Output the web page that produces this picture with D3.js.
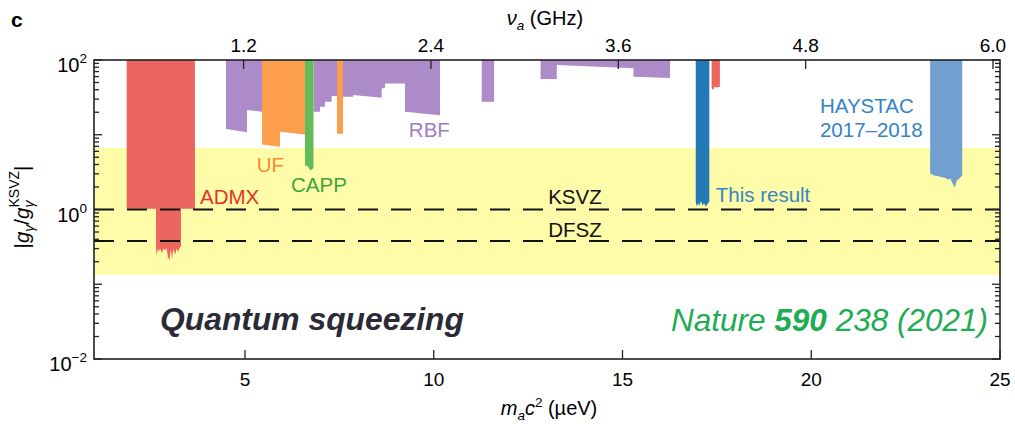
<!DOCTYPE html>
<html>
<head>
<meta charset="utf-8">
<script src="https://cdn.jsdelivr.net/npm/d3@7"></script>
<style>
  body { margin: 0; background: #fff; }
  svg text { font-family: "Liberation Sans", Arial, Helvetica, sans-serif; }
</style>
</head>
<body>
<div id="chart"></div>
<script>
// ---- data (mass in µeV, coupling relative to KSVZ) ----
const massTicks = [5, 10, 15, 20, 25];
const freqTicks = [1.2, 2.4, 3.6, 4.8, 6.0];
const GHZ_PER_UEV = 0.241799;

const ksvz = 1.0;
const dfsz = 0.38;
const band = [0.134, 6.65]; // yellow model band

// lower edge of each excluded region, [mass, |g/gKSVZ|]
const admx = [[1.866, 1.02], [2.642, 1.02], [2.642, 0.30], [2.66, 0.24], [2.69, 0.30], [2.72, 0.27],
  [2.75, 0.30], [2.80, 0.26], [2.84, 0.30], [2.88, 0.28], [2.92, 0.31], [2.96, 0.23], [3.00, 0.21],
  [3.03, 0.29], [3.07, 0.22], [3.10, 0.30], [3.15, 0.25], [3.19, 0.30], [3.23, 0.27], [3.27, 0.31],
  [3.305, 0.32], [3.305, 1.02], [3.675, 1.02]];
const admxHigh = [[17.36, 42], [17.40, 40], [17.44, 44], [17.50, 43], [17.58, 44]];
const uf = [[5.45, 7.4], [5.927, 6.9], [5.927, 11.0], [6.589, 10.1]];
const ufNarrow = [[7.437, 10.3], [7.596, 10.3]];
const capp = [[6.589, 3.85], [6.66, 3.85], [6.70, 3.5], [6.74, 3.35], [6.78, 3.45], [6.815, 3.6]];
const rbf = [
  [[4.497, 11.9], [5.053, 10.8], [5.053, 21.4], [5.450, 20.3]],
  [[6.815, 20.3], [6.986, 20.3], [6.986, 23.7], [7.119, 23.7], [7.119, 27.6], [7.295, 27.6], [7.295, 33.0], [7.437, 33.0]],
  [[7.596, 32.2], [7.868, 32.2], [7.868, 34.0], [8.62, 31.3], [8.62, 41.9], [8.709, 41.9], [8.709, 48.5],
   [9.238, 48.5], [9.238, 20.3], [10.166, 18.3]],
  [[11.27, 27.6], [11.60, 27.6]],
  [[12.83, 55.6], [13.26, 55.6], [13.26, 85.8], [15.29, 77.7], [15.29, 59.8], [16.26, 57.3]]
];
const thisResult = [[16.94, 1.25], [16.97, 1.10], [17.00, 1.20], [17.04, 1.13], [17.08, 1.30], [17.12, 1.12],
  [17.16, 1.22], [17.20, 1.10], [17.25, 1.18], [17.30, 1.28]];
const haystac = [[23.15, 3.05], [23.25, 2.85], [23.35, 2.8], [23.45, 2.7], [23.55, 2.65], [23.62, 2.5],
  [23.68, 2.62], [23.75, 2.2], [23.80, 1.95], [23.85, 2.4], [23.92, 2.6], [24.0, 2.85]];

const width = 1015, height = 424;
const margin = {top: 60, right: 15, bottom: 65, left: 94};

const x = d3.scaleLinear().domain([1, 25]).range([margin.left, width - margin.right]);
const xf = d3.scaleLinear().domain([1 * GHZ_PER_UEV, 25 * GHZ_PER_UEV]).range(x.range());
const y = d3.scaleLog().domain([0.01, 100]).range([height - margin.bottom, margin.top]);

const svg = d3.select("#chart").append("svg")
  .attr("width", width)
  .attr("height", height);

// yellow band
svg.append("rect")
  .attr("x", x(1)).attr("width", x(25) - x(1))
  .attr("y", y(band[1])).attr("height", y(band[0]) - y(band[1]))
  .attr("fill", "#fefca8");

const area = d3.area()
  .x(d => x(d[0]))
  .y0(y(100))
  .y1(d => y(d[1]));

const regions = [
  ...rbf.map(r => ({pts: r, color: "#ac8bc8"})),
  {pts: admx, color: "#ec6660"},
  {pts: admxHigh, color: "#ec6660"},
  {pts: uf, color: "#fd9e4c"},
  {pts: ufNarrow, color: "#fd9e4c"},
  {pts: capp, color: "#63bb5c"},
  {pts: thisResult, color: "#2279b6"},
  {pts: haystac, color: "#709fd0"}
];

svg.append("g").selectAll("path")
  .data(regions)
  .enter().append("path")
  .attr("d", d => area(d.pts))
  .attr("fill", d => d.color);

// KSVZ / DFSZ dashed lines
svg.append("g").selectAll("line")
  .data([ksvz, dfsz])
  .enter().append("line")
  .attr("x1", x(1)).attr("x2", x(25))
  .attr("y1", d => y(d)).attr("y2", d => y(d))
  .attr("stroke", "#111")
  .attr("stroke-width", 2)
  .attr("stroke-dasharray", "20,13");

// frame
svg.append("rect")
  .attr("x", x(1)).attr("y", y(100))
  .attr("width", x(25) - x(1)).attr("height", y(0.01) - y(100))
  .attr("fill", "none").attr("stroke", "#222").attr("stroke-width", 1.6);

// log ticks on left and right, pointing inward
const yTicks = y.ticks();
const isDecade = d => Math.abs(Math.log10(d) - Math.round(Math.log10(d))) < 1e-6;
const tickG = svg.append("g").attr("stroke", "#222").attr("stroke-width", 1.3);
tickG.selectAll(".tl").data(yTicks).enter().append("line")
  .attr("x1", x(1)).attr("x2", d => x(1) + (isDecade(d) ? 8 : 5))
  .attr("y1", d => y(d)).attr("y2", d => y(d));
tickG.selectAll(".tr").data(yTicks).enter().append("line")
  .attr("x1", x(25)).attr("x2", d => x(25) - (isDecade(d) ? 8 : 5))
  .attr("y1", d => y(d)).attr("y2", d => y(d));
// bottom ticks
tickG.selectAll(".tb").data(massTicks).enter().append("line")
  .attr("x1", d => x(d)).attr("x2", d => x(d))
  .attr("y1", y(0.01)).attr("y2", y(0.01) - 9);
// top ticks (frequency)
tickG.selectAll(".tt").data(freqTicks).enter().append("line")
  .attr("x1", d => xf(d)).attr("x2", d => xf(d))
  .attr("y1", y(100)).attr("y2", y(100) + 9);

// tick labels
const fs = 19;
svg.append("g").selectAll("text")
  .data(massTicks).enter().append("text")
  .attr("x", d => x(d)).attr("y", 386)
  .attr("text-anchor", "middle").attr("font-size", fs)
  .text(d => d);
svg.append("g").selectAll("text")
  .data(freqTicks).enter().append("text")
  .attr("x", d => xf(d)).attr("y", 52)
  .attr("text-anchor", "middle").attr("font-size", fs)
  .text(d => d.toFixed(1));

const yLab = svg.append("g").selectAll("text")
  .data([2, 0, -2]).enter().append("text")
  .attr("x", 87).attr("y", d => y(Math.pow(10, d)) + 12)
  .attr("text-anchor", "end").attr("font-size", 20);
yLab.append("tspan").text("10");
yLab.append("tspan").attr("dy", -9).attr("font-size", 13.5)
  .text(d => d < 0 ? "\u2212" + (-d) : d);

// axis titles
const xt = svg.append("text").attr("x", 549).attr("y", 415)
  .attr("text-anchor", "middle").attr("font-size", 20);
xt.append("tspan").attr("font-style", "italic").text("m");
xt.append("tspan").attr("font-size", 13.5).attr("dy", 5).attr("font-style", "italic").text("a");
xt.append("tspan").attr("dy", -5).attr("font-style", "italic").text("c");
xt.append("tspan").attr("font-size", 13.5).attr("dy", -8).text("2");
xt.append("tspan").attr("dy", 8).text(" (\u00b5eV)");

const ft = svg.append("text").attr("x", 545).attr("y", 25)
  .attr("text-anchor", "middle").attr("font-size", 20);
ft.append("tspan").attr("font-style", "italic").text("\u03bd");
ft.append("tspan").attr("font-size", 13.5).attr("dy", 5).attr("font-style", "italic").text("a");
ft.append("tspan").attr("dy", -5).text(" (GHz)");

const yt = svg.append("text")
  .attr("transform", "translate(29,207) rotate(-90)")
  .attr("text-anchor", "middle").attr("font-size", 20.5);
yt.append("tspan").text("|");
yt.append("tspan").attr("font-style", "italic").text("g");
yt.append("tspan").attr("font-size", 14).attr("dy", 5).attr("font-style", "italic").text("\u03b3");
yt.append("tspan").attr("dy", -5).text("/");
yt.append("tspan").attr("font-style", "italic").text("g");
yt.append("tspan").attr("font-size", 14).attr("dy", 5).attr("font-style", "italic").text("\u03b3");
yt.append("tspan").attr("font-size", 14).attr("dx", -7).attr("dy", -15).text("KSVZ");
yt.append("tspan").attr("dy", 10).text("|");

svg.append("text").attr("x", 11).attr("y", 27)
  .attr("font-size", 21).attr("font-weight", "bold").text("c");

// experiment labels, anchored in data coordinates
const labels = [
  {t: "ADMX", m: 3.81, g: 1.174, c: "#e0332d"},
  {t: "UF", m: 5.31, g: 3.2, c: "#f98a2f"},
  {t: "CAPP", m: 6.22, g: 1.73, c: "#3ca43b"},
  {t: "RBF", m: 9.34, g: 9.42, c: "#a07cc6"},
  {t: "KSVZ", m: 13.03, g: 1.185, c: "#111"},
  {t: "DFSZ", m: 13.03, g: 0.433, c: "#111"},
  {t: "This result", m: 17.47, g: 1.27, c: "#3786c3"},
  {t: "HAYSTAC", m: 20.23, g: 19.4, c: "#3584c3"},
  {t: "2017\u20132018", m: 20.23, g: 9.42, c: "#3584c3"}
];
svg.append("g").selectAll("text")
  .data(labels).enter().append("text")
  .attr("x", d => x(d.m)).attr("y", d => y(d.g))
  .attr("font-size", 20.5)
  .attr("fill", d => d.c)
  .text(d => d.t);

svg.append("text")
  .attr("x", x(2.75)).attr("y", 330)
  .attr("font-size", 31.8).attr("font-weight", "bold").attr("font-style", "italic")
  .attr("fill", "#2b2b38")
  .text("Quantum squeezing");

const nat = svg.append("text")
  .attr("x", 988).attr("y", 331)
  .attr("text-anchor", "end")
  .attr("font-size", 31.5).attr("font-style", "italic")
  .attr("fill", "#20ab55");
nat.append("tspan").text("Nature ");
nat.append("tspan").attr("font-weight", "bold").text("590");
nat.append("tspan").text(" 238 (2021)");
</script>
</body>
</html>
